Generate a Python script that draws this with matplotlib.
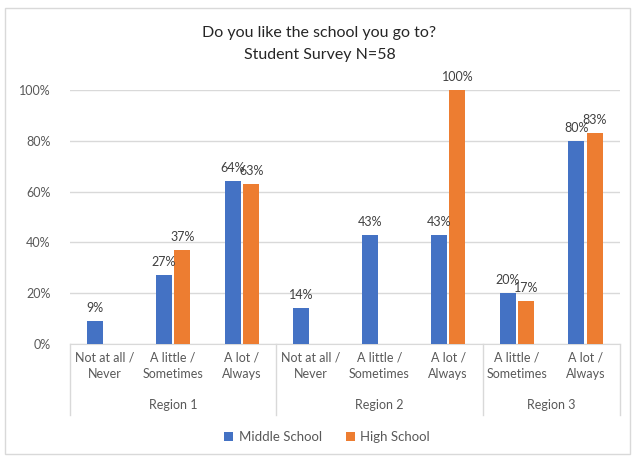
import numpy as np
import matplotlib.pyplot as plt
from matplotlib.patches import Rectangle
import matplotlib.transforms as mtransforms

plt.rcParams['font.family'] = ['Lato', 'DejaVu Sans']

regions = ["Region 1", "Region 2", "Region 3"]
region_sizes = [3, 3, 2]
categories = ["Not at all /\nNever", "A little /\nSometimes", "A lot /\nAlways",
              "Not at all /\nNever", "A little /\nSometimes", "A lot /\nAlways",
              "A little /\nSometimes", "A lot /\nAlways"]
middle = [9, 27, 64, 14, 43, 43, 20, 80]
high = [np.nan, 37, 63, np.nan, np.nan, 100, 17, 83]

blue = "#4472C4"
orange = "#ED7D31"
txt = "#595959"
grid = "#D9D9D9"

W, H = 639, 459
fig = plt.figure(figsize=(W / 100, H / 100), dpi=100)
ax = fig.add_axes([70 / W, (H - 344) / H, 550 / W, 254 / H])

x = np.arange(len(categories))
bw = 0.235
off = 0.135
mid = np.array(middle, dtype=float) / 100
hi = np.array(high, dtype=float) / 100
ax.bar(x - off, mid, bw, color=blue, label="Middle School", zorder=3)
ax.bar(x + off, hi, bw, color=orange, label="High School", zorder=3)

for xs, vals in ((x - off, mid), (x + off, hi)):
    for xi, v in zip(xs, vals):
        if np.isnan(v):
            continue
        ax.annotate(f"{v * 100:.0f}%", (xi, v), textcoords="offset points",
                    xytext=(0, 5), ha="center", va="bottom", fontsize=9,
                    color="#404040", clip_on=False)

ax.set_xlim(-0.5, len(categories) - 0.5)
ax.set_ylim(0, 1)
ax.set_yticks(np.arange(0, 1.01, 0.2))
ax.set_yticklabels([f"{int(round(t * 100))}%" for t in np.arange(0, 1.01, 0.2)])
ax.tick_params(axis="y", length=0, labelsize=9, labelcolor=txt, pad=14)
ax.set_xticks([])
ax.grid(axis="y", color=grid, linewidth=1, zorder=0)
for s in ["top", "right", "left"]:
    ax.spines[s].set_visible(False)
ax.spines["bottom"].set_color(grid)

trans = mtransforms.blended_transform_factory(ax.transData, ax.transAxes)
for xi, lab in zip(x, categories):
    ax.text(xi, -22 / 254, lab, transform=trans, ha="center", va="center",
            fontsize=9, color=txt, linespacing=1.5)

start = 0
bounds = [-0.5]
for name, n in zip(regions, region_sizes):
    c = start + (n - 1) / 2
    ax.text(c, -61 / 254, name, transform=trans, ha="center", va="center",
            fontsize=9, color=txt)
    start += n
    bounds.append(start - 0.5)
for b in bounds:
    ax.plot([b, b], [0, -71 / 254], transform=trans, color=grid, lw=1,
            clip_on=False)

fig.text(0.5, 1 - 33 / H, "Do you like the school you go to?", ha="center",
         va="center", fontsize=11.5, color="#262626")
fig.text(0.5, 1 - 55 / H, "Student Survey N=58", ha="center", va="center",
         fontsize=11.5, color="#262626")

fig.legend(loc="center", bbox_to_anchor=(327 / W, 22 / H), ncol=2, frameon=False,
           fontsize=9.5, handlelength=0.7, handleheight=0.7, handletextpad=0.4,
           columnspacing=1.8, labelcolor=txt)

fig.patches.append(Rectangle((5 / W, 5 / H), 625 / W, 446 / H,
                             transform=fig.transFigure, fill=False,
                             edgecolor=grid, lw=1))

fig.savefig("out.png", dpi=100)
